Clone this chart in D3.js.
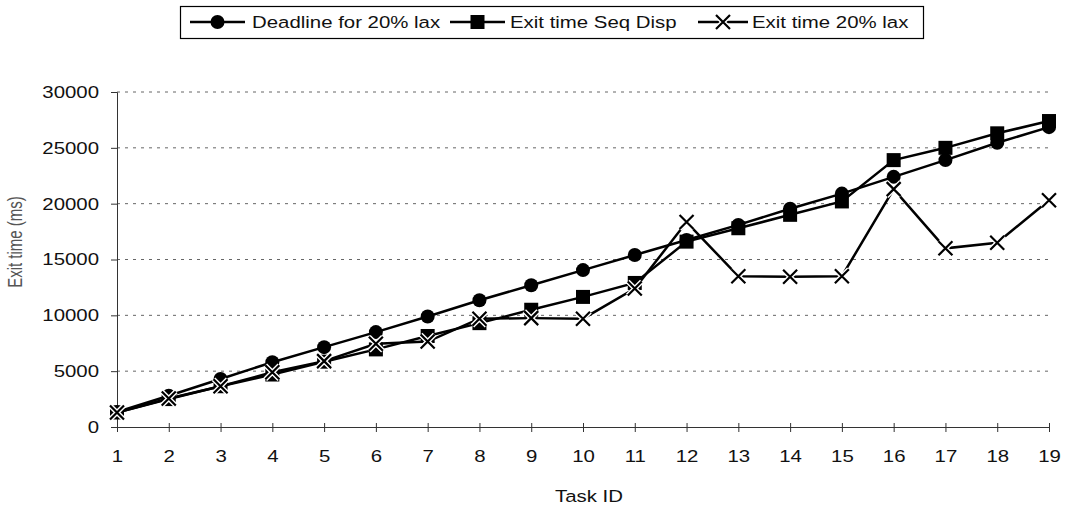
<!DOCTYPE html>
<html>
<head>
<meta charset="utf-8">
<script src="https://cdn.jsdelivr.net/npm/d3@7"></script>
<style>
  body { margin: 0; background: #fff; }
  text { font-family: "Liberation Sans", Arial, sans-serif; fill: #111; }
</style>
</head>
<body>
<div id="chart"></div>
<script>
// values
var taskIds = [1, 2, 3, 4, 5, 6, 7, 8, 9, 10, 11, 12, 13, 14, 15, 16, 17, 18, 19];
var deadline20 = [1350, 2800, 4300, 5800, 7150, 8500, 9900, 11350, 12700, 14050, 15400, 16750, 18100, 19550, 20900, 22400, 23900, 25450, 26850];
var exitSeqDisp = [1300, 2500, 3650, 4700, 5850, 6950, 8150, 9300, 10500, 11650, 12900, 16600, 17800, 19000, 20200, 23900, 25000, 26300, 27400];
var exit20 = [1300, 2550, 3650, 4900, 5900, 7450, 7650, 9700, 9750, 9700, 12400, 18350, 13500, 13450, 13500, 21300, 16000, 16500, 20300];
var yTicks = [0, 5000, 10000, 15000, 20000, 25000, 30000];
var seriesNames = ["Deadline for 20% lax", "Exit time Seq Disp", "Exit time 20% lax"];

var W = 1074, H = 508;
var plot = {left: 117, right: 1049, top: 92, bottom: 427};
var stretch = "scale(1.2,1)"; // scan is wider than tall

var svg = d3.select("#chart").append("svg")
    .attr("width", W).attr("height", H);

var x = d3.scalePoint().domain(taskIds).range([plot.left, plot.right]);
var y = d3.scaleLinear().domain([0, 30000]).range([plot.bottom, plot.top]);

// dotted horizontal grid
svg.append("g").selectAll("line")
    .data(yTicks.filter(function(d) { return d > 0; }))
    .enter().append("line")
    .attr("x1", plot.left).attr("x2", plot.right)
    .attr("y1", d => y(d)).attr("y2", d => y(d))
    .attr("stroke", "#666").attr("stroke-width", 1)
    .attr("stroke-dasharray", "3,5");

// y axis
var gy = svg.append("g")
    .attr("transform", "translate(" + plot.left + ",0)")
    .call(d3.axisLeft(y).tickValues(yTicks).tickFormat(d3.format("d")).tickSize(6).tickPadding(9));
gy.select(".domain").attr("stroke", "#333");
gy.selectAll(".tick line").attr("stroke", "#333").attr("x2", -6);
gy.selectAll("text")
    .style("font-size", "17px")
    .attr("fill", "#111")
    .attr("transform", stretch);

// x axis
var gx = svg.append("g")
    .attr("transform", "translate(0," + plot.bottom + ")")
    .call(d3.axisBottom(x).tickSize(5).tickPadding(18).tickSizeOuter(0));
gx.select(".domain").attr("stroke", "#333");
gx.selectAll(".tick line").attr("stroke", "#333").attr("y1", -4);
gx.selectAll("text")
    .style("font-size", "17px")
    .attr("fill", "#111")
    .attr("transform", stretch);

// axis titles
svg.append("text")
    .attr("transform", "translate(589,502) " + stretch)
    .attr("text-anchor", "middle")
    .style("font-size", "17px")
    .text("Task ID");

svg.append("text")
    .attr("transform", "translate(22,242) rotate(-90) scale(1,1.3)")
    .attr("text-anchor", "middle")
    .style("font-size", "15px")
    .style("fill", "#555")
    .text("Exit time (ms)");

// series
var line = d3.line().x(d => x(d.id)).y(d => y(d.v));
function pts(vals) {
  return taskIds.map(function(id, i) { return {id: id, v: vals[i]}; });
}

function drawMarker(g, kind, cx, cy) {
  if (kind === "circle") {
    g.append("circle").attr("cx", cx).attr("cy", cy).attr("r", 7).attr("fill", "#000");
  } else if (kind === "square") {
    g.append("rect").attr("x", cx - 7).attr("y", cy - 7).attr("width", 14).attr("height", 14).attr("fill", "#000");
  } else {
    var p = "M" + (cx - 7) + "," + (cy - 7) + "L" + (cx + 7) + "," + (cy + 7) +
            "M" + (cx + 7) + "," + (cy - 7) + "L" + (cx - 7) + "," + (cy + 7);
    g.append("path").attr("d", p).attr("stroke", "#fff").attr("stroke-width", 5);
    g.append("path").attr("d", p).attr("stroke", "#000").attr("stroke-width", 2.2);
  }
}

var series = [
  {vals: deadline20, kind: "circle"},
  {vals: exitSeqDisp, kind: "square"},
  {vals: exit20, kind: "x"}
];

series.forEach(function(s) {
  var g = svg.append("g");
  g.append("path")
      .datum(pts(s.vals))
      .attr("fill", "none")
      .attr("stroke", "#000")
      .attr("stroke-width", 2.5)
      .attr("d", line);
  pts(s.vals).forEach(function(p) {
    drawMarker(g, s.kind, x(p.id), y(p.v));
  });
});

// legend
var lg = svg.append("g");
lg.append("rect")
    .attr("x", 180.5).attr("y", 6.5).attr("width", 743).attr("height", 32)
    .attr("fill", "#fff").attr("stroke", "#000").attr("stroke-width", 1.2);

var legendItems = [
  {name: seriesNames[0], kind: "circle", x0: 190, x1: 245, tx: 252},
  {name: seriesNames[1], kind: "square", x0: 450, x1: 505, tx: 510},
  {name: seriesNames[2], kind: "x", x0: 698, x1: 748, tx: 752}
];
legendItems.forEach(function(it) {
  var ly = 22;
  lg.append("line")
      .attr("x1", it.x0).attr("x2", it.x1).attr("y1", ly).attr("y2", ly)
      .attr("stroke", "#000").attr("stroke-width", 2.5);
  drawMarker(lg, it.kind, (it.x0 + it.x1) / 2, ly);
  lg.append("text")
      .attr("transform", "translate(" + it.tx + ",28) " + stretch)
      .style("font-size", "17px")
      .text(it.name);
});
</script>
</body>
</html>
